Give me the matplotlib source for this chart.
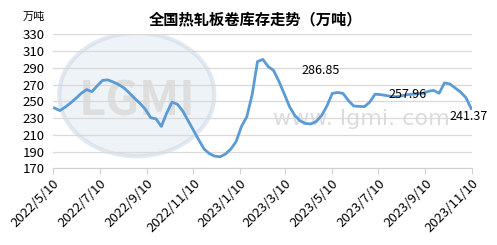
import numpy as np
import pandas as pd
import matplotlib
matplotlib.use("Agg")
import matplotlib.pyplot as plt
from matplotlib.patches import Ellipse

plt.rcParams['font.family'] = ['Noto Sans CJK SC', 'DejaVu Sans']

# weekly inventory (10k tonnes), Thursdays
dates = pd.date_range('2022-05-12', '2023-11-09', freq='7D')
stock = [242.0, 239.0, 243.0, 248.0, 253.5, 259.5, 264.0, 261.5, 268.5, 275.0,
         275.5, 273.0, 270.0, 266.0, 260.0, 253.5, 247.6, 240.5, 230.5, 229.0,
         220.0, 236.0, 249.0, 246.5, 238.5, 227.0, 215.5, 204.0, 193.0, 187.5,
         184.5, 183.8, 187.0, 193.0, 202.0, 220.0, 231.6, 258.0, 297.5, 300.0,
         291.5, 286.85, 274.0, 259.0, 243.5, 233.0, 226.5, 223.5, 223.0, 226.0,
         233.0, 244.5, 259.5, 260.5, 259.5, 251.0, 244.4, 244.0, 243.6, 249.0,
         258.5, 258.0, 257.0, 256.0, 255.5, 256.5, 257.96, 258.4, 259.0, 259.6,
         262.0, 263.0, 259.6, 272.0, 270.7, 266.0, 261.0, 254.5, 241.37]

tick_dates = ['2022-05-10', '2022-07-10', '2022-09-10', '2022-11-10', '2023-01-10',
              '2023-03-10', '2023-05-10', '2023-07-10', '2023-09-10', '2023-11-10']
tick_labels = ['2022/5/10', '2022/7/10', '2022/9/10', '2022/11/10', '2023/1/10',
               '2023/3/10', '2023/5/10', '2023/7/10', '2023/9/10', '2023/11/10']
yticks = np.arange(170, 331, 20)

# labelled points: (index, dx days, dy)
labelled = [(41, 36, 0), (66, 0, 0), (78, -4, -10)]

fig = plt.figure(figsize=(4.97, 2.45), dpi=100)
ax = fig.add_axes([0.1066, 0.313, 0.843, 0.547])

# faint watermark
wm = ax.transAxes
ax.add_patch(Ellipse((0.2, 0.55), 0.37, 0.92, transform=wm, facecolor='#e4ebf3',
                     edgecolor='#cfdbe8', lw=3, alpha=0.6, zorder=0))
ax.text(0.2, 0.5, 'LGMI', transform=wm, ha='center', va='center', fontsize=34,
        fontweight='bold', color='#dedede', zorder=0.5)
ax.text(0.735, 0.37, 'www. lgmi. com', transform=wm, ha='center', va='center',
        fontsize=16, color='#dcdcdc', family='Liberation Sans Narrow', zorder=0.5)

ax.plot(dates, stock, color='#5b9bd5', lw=2.0, solid_joinstyle='round', zorder=3)

for i, dx, dy in labelled:
    x = dates[i] + pd.Timedelta(days=dx)
    y = stock[i] + dy
    ax.text(x, y, f'{stock[i]:.2f}', ha='left' if dx > 0 else 'center',
            va='center', fontsize=9, color='black', zorder=4)

ax.set_ylim(170, 330)
ax.set_yticks(yticks)
ax.set_xlim(pd.Timestamp('2022-05-10'), pd.Timestamp('2023-11-10'))
ax.set_xticks(pd.to_datetime(tick_dates))
ax.set_xticklabels(tick_labels, rotation=45, ha='right', rotation_mode='anchor')

ax.grid(axis='y', color='#d9d9d9', lw=0.9)
ax.set_axisbelow(True)
for s in ['top', 'right', 'left']:
    ax.spines[s].set_visible(False)
ax.spines['bottom'].set_color('#d0d0d0')
ax.tick_params(axis='y', length=0, labelsize=9.5, pad=6)
ax.tick_params(axis='x', length=4, color='#d0d0d0', labelsize=9.5, pad=2)

fig.text(0.068, 0.93, '万吨', fontsize=8, ha='center', va='center')
fig.text(0.515, 0.922, '全国热轧板卷库存走势（万吨）', fontsize=11,
         fontweight='bold', ha='center', va='center')

fig.savefig('out.png', dpi=100)
